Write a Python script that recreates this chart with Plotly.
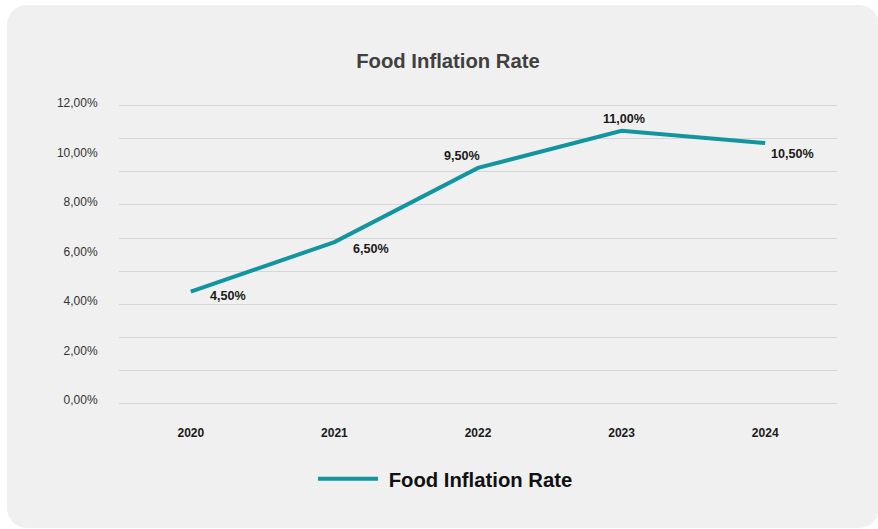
import math
import plotly.graph_objects as go

years = ["2020", "2021", "2022", "2023", "2024"]
rates = [4.5, 6.5, 9.5, 11.0, 10.5]
rate_labels = ["4,50%", "6,50%", "9,50%", "11,00%", "10,50%"]
y_ticks = [0, 2, 4, 6, 8, 10, 12]
y_tick_labels = ["0,00%", "2,00%", "4,00%", "6,00%", "8,00%", "10,00%", "12,00%"]
series_name = "Food Inflation Rate"
title_text = "Food Inflation Rate"

# label offsets in pixels (style only)
label_dx = [37, 37, -16, 2, 27]
label_dy = [-4, -7, 12, 12, -11]

W, H = 878, 529
PAD = 0.08  # axis padding so edge gridlines are kept
L, R, T, B = 119, 41, 104, 124
PW, PH = W - L - R, H - T - B

FONT = "Liberation Sans, Arial, sans-serif"
TEAL = "#12959f"

def px2paper(x, y):
    return (x - L) / PW, 1 - (y - T) / PH

# rounded panel path in paper coordinates
x0, y0, x1, y1, r = 7, 5, 879, 528, 20
pts = []
corners = [(x1 - r, y0 + r, -90, 0), (x1 - r, y1 - r, 0, 90), (x0 + r, y1 - r, 90, 180), (x0 + r, y0 + r, 180, 270)]
for cx, cy, a0, a1 in corners:
    for k in range(9):
        a = math.radians(a0 + (a1 - a0) * k / 8)
        pts.append(px2paper(cx + r * math.cos(a), cy + r * math.sin(a)))
path = "M" + " L".join(f"{px:.5f},{py:.5f}" for px, py in pts) + " Z"

fig = go.Figure()
# invisible trace on overlay axis for gridlines
fig.add_trace(go.Scatter(x=years, y=rates, yaxis="y2", mode="lines",
                         line=dict(width=0), hoverinfo="skip", showlegend=False, opacity=0))
fig.add_trace(go.Scatter(
    x=years, y=rates, mode="lines", name="\u00a0<b>" + series_name + "</b>",
    line=dict(color=TEAL, width=4), showlegend=True,
))

# category axis: annotations positioned by category index
for i, (v, lab) in enumerate(zip(rates, rate_labels)):
    fig.add_annotation(
        x=i, y=v, xref="x", yref="y", showarrow=False,
        text="<b>" + lab + "</b>",
        xshift=label_dx[i], yshift=label_dy[i],
        font=dict(family=FONT, size=12.6, color="#1a1a1a"),
    )

fig.update_layout(
    width=W, height=H,
    margin=dict(l=L, r=R, t=T, b=B),
    paper_bgcolor="white",
    plot_bgcolor="rgba(0,0,0,0)",
    shapes=[dict(type="path", path=path, xref="paper", yref="paper",
                 fillcolor="#f0f0f0", line=dict(width=0), layer="below")],
    title=dict(text="<b>" + title_text + "</b>", x=448 / W, xref="container", xanchor="center",
               y=1 - 60.5 / H, yref="container", yanchor="middle",
               font=dict(family=FONT, size=20.3, color="#404040")),
    xaxis=dict(type="category", range=[-0.5, 4.5], showgrid=False, zeroline=False,
               showline=False, ticks="outside", ticklen=17, tickcolor="rgba(0,0,0,0)",
               tickvals=years, ticktext=["<b>" + y + "</b>" for y in years],
               tickfont=dict(family=FONT, size=12, color="#1a1a1a")),
    yaxis=dict(range=[-PAD, 12 + PAD], tickvals=y_ticks, ticktext=y_tick_labels,
               showgrid=False, zeroline=False, showline=False,
               ticks="outside", ticklen=18, tickcolor="rgba(0,0,0,0)",
               ticklabelshift=-3,
               tickfont=dict(family=FONT, size=12, color="#333333")),
    yaxis2=dict(range=[-PAD, 12 + PAD], overlaying="y", side="left",
                tickvals=[k * 12 / 9 for k in range(10)], showticklabels=False,
                showgrid=True, gridcolor="#d6d6d6", gridwidth=1, zeroline=False,
                showline=False, ticks=""),
    legend=dict(orientation="h", x=(313 - L) / PW, xanchor="left",
                y=1 - (479 - T) / PH, yanchor="middle", itemwidth=60,
                bgcolor="rgba(0,0,0,0)",
                font=dict(family=FONT, size=20.3, color="#111111")),
)

fig.write_html("out.html")
